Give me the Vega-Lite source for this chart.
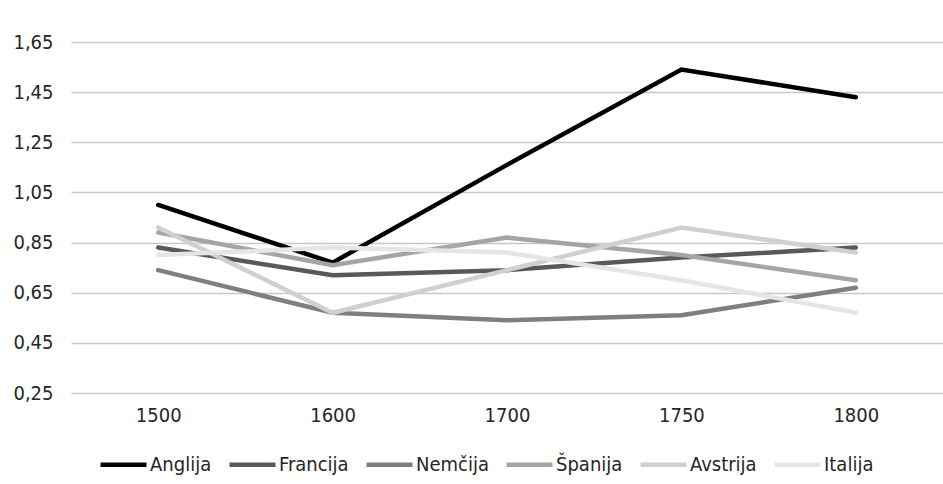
{
  "$schema": "https://vega.github.io/schema/vega-lite/v6.json",
  "width": 872,
  "height": 351,
  "padding": {"left": 9, "top": 32, "right": 0, "bottom": 0},
  "background": "white",
  "data": {
    "values": [
      {"country": "Anglija", "year": "1500", "value": 1.00},
      {"country": "Anglija", "year": "1600", "value": 0.77},
      {"country": "Anglija", "year": "1700", "value": 1.16},
      {"country": "Anglija", "year": "1750", "value": 1.54},
      {"country": "Anglija", "year": "1800", "value": 1.43},
      {"country": "Francija", "year": "1500", "value": 0.83},
      {"country": "Francija", "year": "1600", "value": 0.72},
      {"country": "Francija", "year": "1700", "value": 0.74},
      {"country": "Francija", "year": "1750", "value": 0.79},
      {"country": "Francija", "year": "1800", "value": 0.83},
      {"country": "Nemčija", "year": "1500", "value": 0.74},
      {"country": "Nemčija", "year": "1600", "value": 0.57},
      {"country": "Nemčija", "year": "1700", "value": 0.54},
      {"country": "Nemčija", "year": "1750", "value": 0.56},
      {"country": "Nemčija", "year": "1800", "value": 0.67},
      {"country": "Španija", "year": "1500", "value": 0.89},
      {"country": "Španija", "year": "1600", "value": 0.76},
      {"country": "Španija", "year": "1700", "value": 0.87},
      {"country": "Španija", "year": "1750", "value": 0.80},
      {"country": "Španija", "year": "1800", "value": 0.70},
      {"country": "Avstrija", "year": "1500", "value": 0.91},
      {"country": "Avstrija", "year": "1600", "value": 0.57},
      {"country": "Avstrija", "year": "1700", "value": 0.74},
      {"country": "Avstrija", "year": "1750", "value": 0.91},
      {"country": "Avstrija", "year": "1800", "value": 0.81},
      {"country": "Italija", "year": "1500", "value": 0.80},
      {"country": "Italija", "year": "1600", "value": 0.83},
      {"country": "Italija", "year": "1700", "value": 0.81},
      {"country": "Italija", "year": "1750", "value": 0.70},
      {"country": "Italija", "year": "1800", "value": 0.57}
    ]
  },
  "mark": {"type": "line", "strokeWidth": 4.5, "strokeCap": "round", "strokeJoin": "miter"},
  "encoding": {
    "x": {
      "field": "year",
      "type": "ordinal",
      "scale": {"type": "point", "padding": 0.5},
      "axis": {
        "title": null,
        "labelAngle": 0,
        "domain": false,
        "ticks": false,
        "grid": false,
        "labelPadding": 12,
        "labelFontSize": 20,
        "labelColor": "#262626"
      }
    },
    "y": {
      "field": "value",
      "type": "quantitative",
      "scale": {"domain": [0.25, 1.65], "nice": false, "zero": false},
      "axis": {
        "title": null,
        "values": [0.25, 0.45, 0.65, 0.85, 1.05, 1.25, 1.45, 1.65],
        "labelExpr": "replace(format(datum.value, '.2f'), '.', ',')",
        "domain": false,
        "ticks": false,
        "grid": true,
        "gridColor": "#c8c8c8",
        "gridWidth": 1.3,
        "labelPadding": 18,
        "minExtent": 62,
        "maxExtent": 62,
        "labelFontSize": 20,
        "labelColor": "#262626"
      }
    },
    "color": {
      "field": "country",
      "type": "nominal",
      "scale": {
        "domain": ["Anglija", "Francija", "Nemčija", "Španija", "Avstrija", "Italija"],
        "range": ["#000000", "#595959", "#7f7f7f", "#a5a5a5", "#d0d0d0", "#e5e5e5"]
      },
      "legend": {
        "title": null,
        "orient": "none",
        "direction": "horizontal",
        "legendX": 27,
        "legendY": 397,
        "symbolType": "stroke",
        "symbolSize": 2116,
        "symbolStrokeWidth": 4.5,
        "labelFontSize": 20,
        "labelColor": "#262626",
        "labelOffset": 1,
        "columnPadding": 8,
        "labelLimit": 200
      }
    }
  },
  "config": {
    "font": "DejaVu Sans Condensed, sans-serif",
    "view": {"stroke": null}
  }
}
